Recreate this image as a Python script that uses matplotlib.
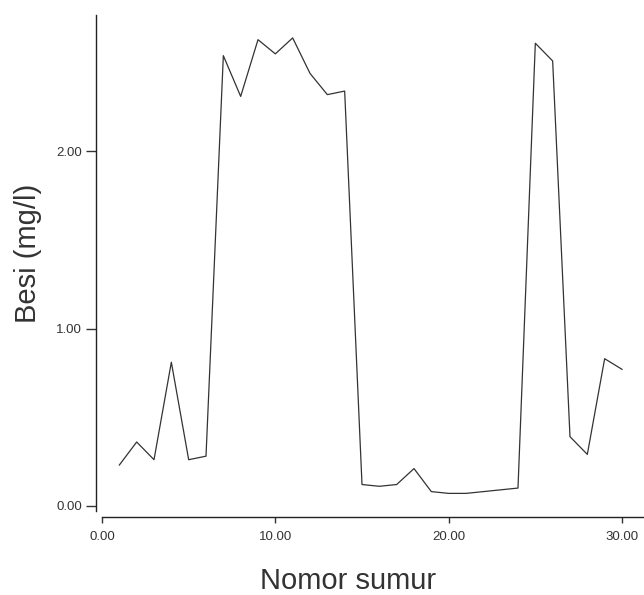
import matplotlib.pyplot as plt

plt.rcParams['font.family'] = ['Liberation Sans', 'DejaVu Sans']

# nomor sumur vs kadar besi
sumur = list(range(1, 31))
besi = [0.23, 0.36, 0.26, 0.81, 0.26, 0.28, 2.54, 2.31, 2.63, 2.55,
        2.64, 2.44, 2.32, 2.34, 0.12, 0.11, 0.12, 0.21, 0.08, 0.07,
        0.07, 0.08, 0.09, 0.10, 2.61, 2.51, 0.39, 0.29, 0.83, 0.77]

xticks = [0, 10, 20, 30]
xticklabels = ['0.00', '10.00', '20.00', '30.00']
yticks = [0, 1, 2]
yticklabels = ['0.00', '1.00', '2.00']

fig = plt.figure(figsize=(6.44, 5.95), dpi=100)
ax = fig.add_axes([0.1584, 0.141, 0.8416, 0.834])

ax.plot(sumur, besi, color='#333333', linewidth=0.9)

ax.set_xlim(0, 31.27)
ax.set_ylim(-0.03, 2.77)
ax.set_xticks(xticks)
ax.set_xticklabels(xticklabels)
ax.set_yticks(yticks)
ax.set_yticklabels(yticklabels)

for s in ['top', 'right']:
    ax.spines[s].set_visible(False)
for s in ['left', 'bottom']:
    ax.spines[s].set_position(('outward', 4.3))
    ax.spines[s].set_color('#222222')
    ax.spines[s].set_linewidth(1.0)

ax.tick_params(axis='both', labelsize=9.5, colors='#333333', width=1.0)
ax.tick_params(axis='y', length=7, pad=3)
ax.tick_params(axis='x', length=4, pad=6)

ax.set_ylabel('Besi (mg/l)', fontsize=21, color='#333333')
ax.set_xlabel('Nomor sumur', fontsize=21, color='#333333')
ax.yaxis.set_label_coords(-0.111, 0.52)
ax.xaxis.set_label_coords(0.454, -0.112)

fig.savefig('out.png', dpi=100)
